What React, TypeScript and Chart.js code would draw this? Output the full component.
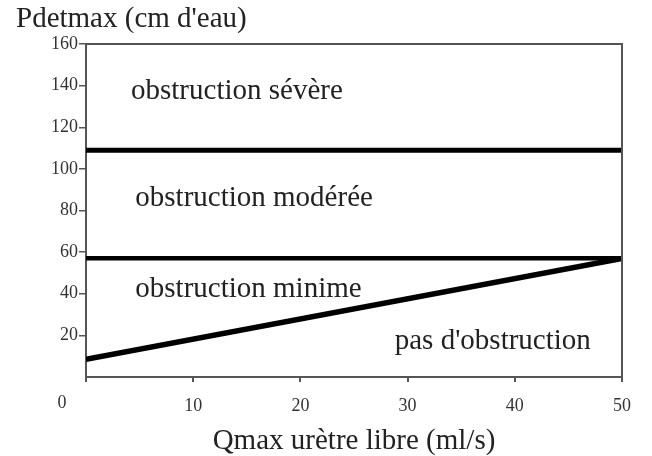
import { useEffect, useRef } from 'react';
import { Chart, registerables } from 'chart.js';

Chart.register(...registerables);

const FONT = '"Liberation Serif", "Times New Roman", serif';

// Qmax (ml/s) end points of the boundary lines
const qmax = [0, 50];
// Pdetmax (cm d'eau) of each boundary at those Qmax values
const severeBoundary = [109, 109];
const moderateBoundary = [57, 57];
const minimalBoundary = [8.5, 57];

// region names and their anchor in data units (Qmax, Pdetmax)
const regionNames = ['obstruction sévère', 'obstruction modérée', 'obstruction minime', "pas d'obstruction"];
const regionQ = [4.2, 4.6, 4.6, 28.8];
const regionP = [137, 86, 42, 17];

const yTitle = "Pdetmax (cm d'eau)";
const xTitle = 'Qmax urètre libre (ml/s)';
const originLabel = '0';

export default function App() {
  const ref = useRef<HTMLCanvasElement>(null);

  useEffect(() => {
    document.body.style.margin = '0';
    const canvas = ref.current;
    if (!canvas) return;

    const decor = {
      id: 'decor',
      afterDatasetsDraw(chart: any) {
        const { ctx, chartArea, scales } = chart;
        ctx.save();
        // frame on top and right
        ctx.strokeStyle = '#555';
        ctx.lineWidth = 2;
        ctx.beginPath();
        ctx.moveTo(chartArea.left, chartArea.top);
        ctx.lineTo(chartArea.right, chartArea.top);
        ctx.lineTo(chartArea.right, chartArea.bottom);
        ctx.stroke();
        // region texts
        ctx.fillStyle = '#222';
        ctx.font = `29px ${FONT}`;
        ctx.textAlign = 'left';
        ctx.textBaseline = 'middle';
        regionNames.forEach((name, i) => {
          ctx.fillText(name, scales.x.getPixelForValue(regionQ[i]), scales.y.getPixelForValue(regionP[i]));
        });
        // y title
        ctx.fillText(yTitle, 16, 19);
        // origin label
        ctx.fillStyle = '#333';
        ctx.font = `18px ${FONT}`;
        ctx.textAlign = 'center';
        ctx.fillText(originLabel, scales.x.getPixelForValue(0) - 24, chartArea.bottom + 26);
        ctx.restore();
      },
    };

    const line = (ys: number[], w: number) => ({
      data: qmax.map((q, i) => ({ x: q, y: ys[i] })),
      borderColor: '#000',
      borderWidth: w,
      pointRadius: 0,
      fill: false,
    });

    const chart = new Chart(canvas, {
      type: 'line',
      data: {
        datasets: [line(severeBoundary, 5), line(moderateBoundary, 4.5), line(minimalBoundary, 5.5)],
      },
      options: {
        responsive: false,
        animation: false,
        layout: { padding: { top: 44, right: 30, left: 0, bottom: 0 } },
        plugins: { legend: { display: false }, tooltip: { enabled: false } },
        scales: {
          x: {
            type: 'linear',
            min: 0,
            max: 50,
            ticks: {
              stepSize: 10,
              callback: (v: any) => (v === 0 ? '' : String(v)),
              font: { family: FONT, size: 18 },
              color: '#333',
              padding: 13,
              maxRotation: 0,
            },
            grid: { drawOnChartArea: false, drawTicks: true, tickLength: 5, color: '#555', lineWidth: 2 },
            border: { display: true, color: '#555', width: 2 },
            title: {
              display: true,
              text: xTitle,
              font: { family: FONT, size: 29, lineHeight: 1 },
              color: '#222',
              padding: { top: 0, bottom: 0 },
            },
            afterFit: (s: any) => {
              s.height = 79;
            },
          },
          y: {
            type: 'linear',
            min: 0,
            max: 160,
            ticks: {
              stepSize: 20,
              callback: (v: any) => (v === 0 ? '' : String(v)),
              font: { family: FONT, size: 18 },
              color: '#333',
              padding: 1,
            },
            grid: {
              drawOnChartArea: false,
              drawTicks: true,
              tickLength: 7,
              color: (c: any) => (c.tick && c.tick.value === 0 ? 'rgba(0,0,0,0)' : '#555'),
              lineWidth: 1.5,
            },
            border: { display: true, color: '#555', width: 2 },
            afterFit: (s: any) => {
              s.width = 86;
            },
          },
        },
      },
      plugins: [decor],
    });

    return () => chart.destroy();
  }, []);

  return <canvas ref={ref} width={652} height={456} style={{ display: 'block' }} />;
}
